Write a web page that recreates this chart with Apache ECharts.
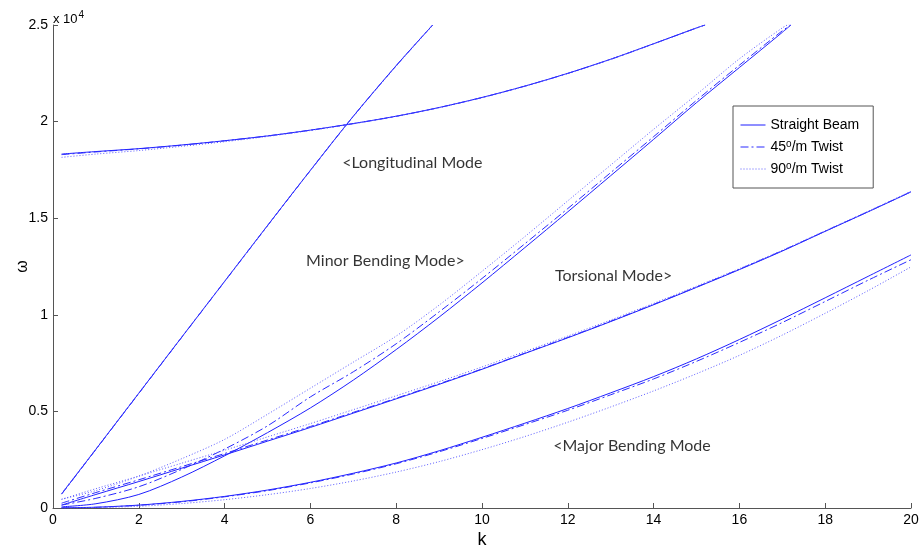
<!DOCTYPE html>
<html>
<head>
<meta charset="utf-8">
<script src="https://cdn.jsdelivr.net/npm/echarts@6/dist/echarts.min.js"></script>
<style>
  html, body { margin: 0; padding: 0; background: #fff; }
  #chart { width: 922px; height: 554px; }
</style>
</head>
<body>
<div id="chart"></div>
<script>
// k grid shared by the torsional and major bending curves
var kGrid = [0.2, 1, 2, 3, 4, 5, 6, 7, 8, 9, 10, 11, 12, 13, 14, 15, 16, 17, 18, 19, 20];

// steep mode (unlabelled)
var kSteep = [0.2, 1, 2, 3, 4, 5, 6, 7, 8, 8.85];
var steepStraight = [725, 3040, 5940, 8840, 11730, 14620, 17480, 20280, 22900, 25000];
var steep45 = [715, 3030, 5930, 8830, 11720, 14610, 17470, 20270, 22890, 25000];
var steep90 = [760, 3060, 5960, 8850, 11740, 14620, 17470, 20260, 22870, 24980];

// longitudinal mode
var kLong = [0.2, 1, 2, 3, 4, 5, 6, 7, 8, 9, 10, 11, 12, 13, 14, 15, 15.2];
var longStraight = [18320, 18450, 18600, 18790, 19010, 19260, 19560, 19900, 20280, 20730, 21250, 21840, 22500, 23230, 24030, 24850, 25000];
var long45 = [18290, 18430, 18590, 18780, 19005, 19255, 19555, 19895, 20275, 20725, 21245, 21835, 22495, 23225, 24025, 24845, 25000];
var long90 = [18150, 18320, 18500, 18720, 18960, 19230, 19540, 19885, 20270, 20720, 21240, 21830, 22490, 23220, 24020, 24840, 25000];

// minor bending mode
var kMinor = [0.2, 1, 2, 3, 4, 5, 6, 7, 8, 9, 10, 11, 12, 13, 14, 15, 16, 17, 17.2];
var minorStraight = [60, 220, 700, 1600, 2700, 3900, 5180, 6620, 8200, 9880, 11650, 13480, 15330, 17200, 19080, 20980, 22800, 24620, 25000];
var minor45 = [150, 500, 1100, 2000, 3050, 4250, 5750, 7050, 8500, 10150, 11880, 13680, 15500, 17360, 19220, 21100, 22920, 24700, 25000];
var minor90 = [450, 900, 1650, 2550, 3550, 4850, 6200, 7550, 8900, 10500, 12250, 14050, 15900, 17750, 19600, 21400, 23250, 24850, 25100];

// torsional mode
var torsStraight = [150, 700, 1370, 2060, 2750, 3460, 4170, 4910, 5650, 6400, 7180, 8000, 8810, 9650, 10520, 11420, 12340, 13300, 14320, 15330, 16360];
var tors45 = [250, 800, 1460, 2140, 2820, 3520, 4220, 4950, 5680, 6430, 7200, 8020, 8830, 9670, 10540, 11440, 12360, 13320, 14330, 15340, 16370];
var tors90 = [450, 1000, 1650, 2320, 2990, 3680, 4370, 5090, 5810, 6540, 7300, 8100, 8900, 9730, 10590, 11480, 12390, 13340, 14350, 15360, 16390];

// major bending mode
var majorStraight = [10, 40, 150, 340, 600, 930, 1330, 1800, 2330, 2960, 3660, 4390, 5150, 5960, 6800, 7720, 8720, 9780, 10880, 11990, 13100];
var major45 = [10, 35, 140, 320, 580, 900, 1300, 1760, 2290, 2910, 3600, 4320, 5060, 5860, 6680, 7590, 8570, 9600, 10690, 11790, 12850];
var major90 = [0, 20, 90, 230, 430, 690, 1010, 1400, 1860, 2400, 3020, 3700, 4440, 5230, 6060, 6950, 7900, 8950, 10080, 11250, 12480];

// legend names and annotations
var legendNames = ['Straight Beam', '45°/m Twist', '90°/m Twist'];
var noteText = ['<Longitudinal Mode', 'Minor Bending Mode>', 'Torsional Mode>', '<Major Bending Mode'];
var noteK = [6.74, 5.9, 11.7, 11.66];
var noteW = [17857, 12785, 12008, 3209];

var xTicks = [0, 2, 4, 6, 8, 10, 12, 14, 16, 18, 20];

function pairs(ks, ws) {
  var out = [];
  for (var i = 0; i < ks.length; i++) {
    out.push([ks[i], ws[i]]);
  }
  return out;
}

var styles = [
  { color: '#1f1fff', width: 1, type: 'solid' },
  { color: '#2a2aff', width: 1, type: [8, 3, 2, 3] },
  { color: '#5a5aff', width: 1, type: [1, 2] }
];

var curves = [
  [kSteep, [steepStraight, steep45, steep90]],
  [kLong, [longStraight, long45, long90]],
  [kMinor, [minorStraight, minor45, minor90]],
  [kGrid, [torsStraight, tors45, tors90]],
  [kGrid, [majorStraight, major45, major90]]
];

var series = [];
for (var v = 0; v < 3; v++) {
  for (var c = 0; c < curves.length; c++) {
    series.push({
      name: legendNames[v],
      type: 'line',
      data: pairs(curves[c][0], curves[c][1][v]),
      showSymbol: false,
      symbol: 'none',
      smooth: 0.3,
      lineStyle: styles[v],
      itemStyle: { color: styles[v].color }
    });
  }
}

var notes = [];
for (var n = 0; n < noteText.length; n++) {
  notes.push({ name: noteText[n], value: [noteK[n], noteW[n]] });
}
series.push({
  name: 'notes',
  type: 'scatter',
  symbolSize: 0,
  data: notes,
  silent: true,
  label: {
    show: true,
    position: 'right',
    distance: 0,
    formatter: function (p) { return p.name; },
    fontFamily: 'Lato',
    fontSize: 16,
    color: '#000'
  }
});

var option = {
  animation: false,
  backgroundColor: '#fff',
  title: {
    text: 'x 10{sup|4}',
    left: 53,
    top: 10,
    padding: 0,
    textStyle: {
      fontFamily: 'Liberation Sans',
      fontSize: 13,
      fontWeight: 'normal',
      color: '#000',
      rich: {
        sup: { fontSize: 10, verticalAlign: 'top', padding: [0, 0, 8, 1], fontFamily: 'Liberation Sans', color: '#000' }
      }
    }
  },
  grid: { left: 53, right: 11, top: 25, bottom: 46, outerBoundsMode: 'none' },
  legend: {
    data: legendNames,
    orient: 'vertical',
    left: 733,
    top: 106,
    padding: [12, 14, 12, 7],
    itemGap: 7,
    itemWidth: 25,
    itemHeight: 14,
    backgroundColor: '#fff',
    borderColor: '#555',
    borderWidth: 1,
    borderRadius: 0,
    itemStyle: { opacity: 0 },
    lineStyle: { width: 1 },
    formatter: function (name) { return name.replace('°', '{sup|o}'); },
    textStyle: {
      fontFamily: 'Liberation Sans',
      fontSize: 14,
      color: '#000',
      rich: {
        sup: { fontSize: 10, verticalAlign: 'top', padding: [0, 0, 6, 0], fontFamily: 'Liberation Sans', color: '#000' }
      }
    }
  },
  xAxis: {
    type: 'value',
    min: 0,
    max: 20,
    interval: 2,
    name: 'k',
    nameLocation: 'middle',
    nameGap: 23,
    nameMoveOverlap: false,
    nameTextStyle: { fontFamily: 'Liberation Sans', fontSize: 18, color: '#000' },
    axisLine: { lineStyle: { color: '#555', width: 1 } },
    axisTick: { inside: true, length: 5, lineStyle: { color: '#555' } },
    axisLabel: {
      fontFamily: 'Liberation Sans', fontSize: 14, color: '#000', margin: 5,
      formatter: function (val) { return xTicks.indexOf(val) >= 0 ? String(val) : ''; }
    },
    splitLine: { show: false }
  },
  yAxis: {
    type: 'value',
    min: 0,
    max: 25000,
    interval: 5000,
    name: 'ω',
    nameLocation: 'middle',
    nameGap: 22,
    nameRotate: 90,
    nameMoveOverlap: false,
    nameTextStyle: { fontFamily: 'Liberation Sans', fontSize: 16, color: '#000' },
    axisLine: { show: true, lineStyle: { color: '#555', width: 1 } },
    axisTick: { show: true, inside: true, length: 5, lineStyle: { color: '#555' } },
    axisLabel: {
      fontFamily: 'Liberation Sans', fontSize: 14, color: '#000', margin: 5,
      formatter: function (val) { return String(val / 10000); }
    },
    splitLine: { show: false }
  },
  series: series
};

var myChart = echarts.init(document.getElementById('chart'));
myChart.setOption(option);
</script>
</body>
</html>
